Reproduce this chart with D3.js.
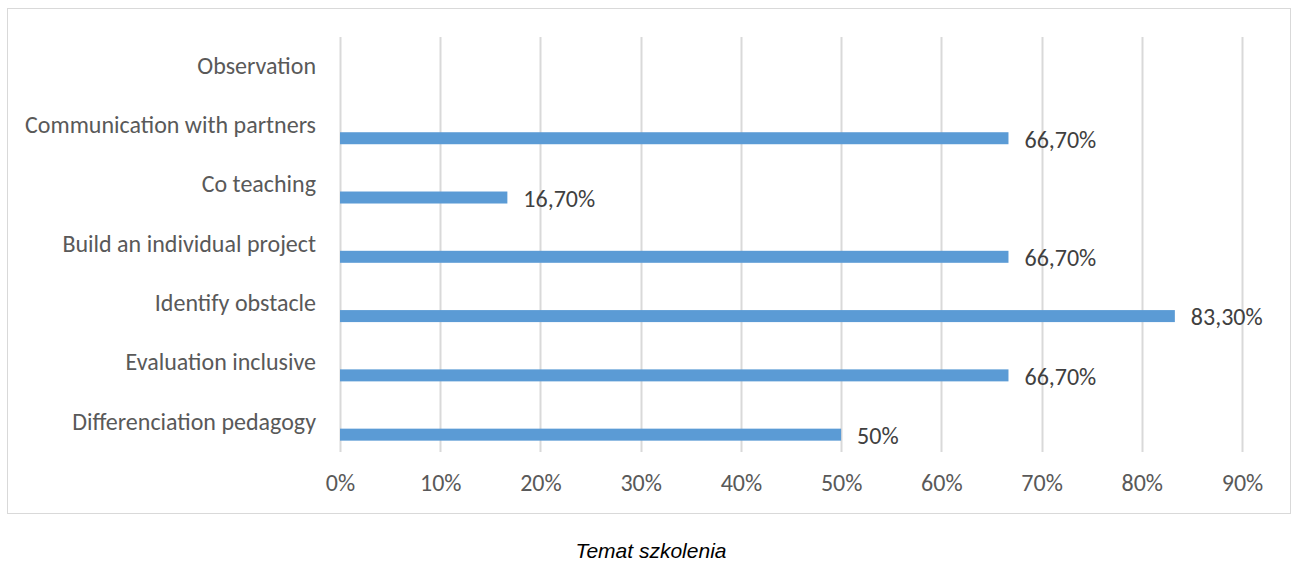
<!DOCTYPE html>
<html>
<head>
<meta charset="utf-8">
<script src="https://cdn.jsdelivr.net/npm/d3@7"></script>
<style>
  html, body { margin: 0; padding: 0; background: #fff; }
  svg { display: block; }
</style>
</head>
<body>
<svg id="chart" width="1292" height="561"></svg>
<script>
const categories = [
  "Observation",
  "Communication with partners",
  "Co teaching",
  "Build an individual project",
  "Identify obstacle",
  "Evaluation inclusive",
  "Differenciation pedagogy"
];
const values = [null, 0.667, 0.167, 0.667, 0.833, 0.667, 0.5];
const valueLabels = ["", "66,70%", "16,70%", "66,70%", "83,30%", "66,70%", "50%"];
const tickValues = [0, 0.1, 0.2, 0.3, 0.4, 0.5, 0.6, 0.7, 0.8, 0.9];
const axisTitle = "Temat szkolenia";

const svg = d3.select("#chart");
const font = "Carlito, Lato, 'Open Sans', sans-serif";
const textColor = "#595959";
const fs = 24;

svg.append("rect")
  .attr("x", 7.5).attr("y", 8.5).attr("width", 1283).attr("height", 505)
  .attr("fill", "#fff").attr("stroke", "#d9d9d9").attr("stroke-width", 1);

const x = d3.scaleLinear().domain([0, 0.9]).range([340, 1242]);
const y = d3.scaleBand().domain(categories).range([37, 452]).paddingInner(0).paddingOuter(0);

// gridlines
svg.append("g").selectAll("line").data(tickValues).join("line")
  .attr("x1", d => Math.round(x(d)) + 0.5).attr("x2", d => Math.round(x(d)) + 0.5)
  .attr("y1", 37).attr("y2", 452)
  .attr("stroke", "#d9d9d9").attr("stroke-width", 2);

// bars
const data = categories.map((c, i) => ({ c, v: values[i], label: valueLabels[i] }));
const barH = 12;
const barOffset = y.bandwidth() / 2 + 12.3 - barH / 2;
svg.append("g").selectAll("rect").data(data.filter(d => d.v != null)).join("rect")
  .attr("x", x(0))
  .attr("y", d => y(d.c) + barOffset)
  .attr("width", d => x(d.v) - x(0))
  .attr("height", barH)
  .attr("fill", "#5b9bd5");

// data labels
svg.append("g").selectAll("text").data(data.filter(d => d.v != null)).join("text")
  .attr("x", d => x(d.v) + 16)
  .attr("y", d => y(d.c) + barOffset + barH / 2 + 1)
  .attr("dy", "0.35em")
  .attr("font-family", font).attr("font-size", fs)
  .attr("fill", "#404040")
  .text(d => d.label);

// y axis (category labels)
const yAxis = svg.append("g").attr("transform", "translate(340,0)")
  .call(d3.axisLeft(y).tickSize(0).tickPadding(24));
yAxis.select(".domain").remove();
yAxis.selectAll("text").attr("font-family", font).attr("font-size", fs).attr("fill", textColor)
  .attr("dy", "0.3em");

// x axis
const xAxis = svg.append("g").attr("transform", "translate(0,452)")
  .call(d3.axisBottom(x).tickValues(tickValues).tickSize(0).tickPadding(22)
    .tickFormat(d => Math.round(d * 100) + "%"));
xAxis.select(".domain").remove();
xAxis.selectAll("text").attr("font-family", font).attr("font-size", fs).attr("fill", textColor);

// axis title
svg.append("text")
  .attr("x", 651).attr("y", 558)
  .attr("text-anchor", "middle")
  .attr("font-family", "'Liberation Sans', Arial, sans-serif")
  .attr("font-style", "italic").attr("font-size", 21).attr("fill", "#000")
  .text(axisTitle);
</script>
</body>
</html>
